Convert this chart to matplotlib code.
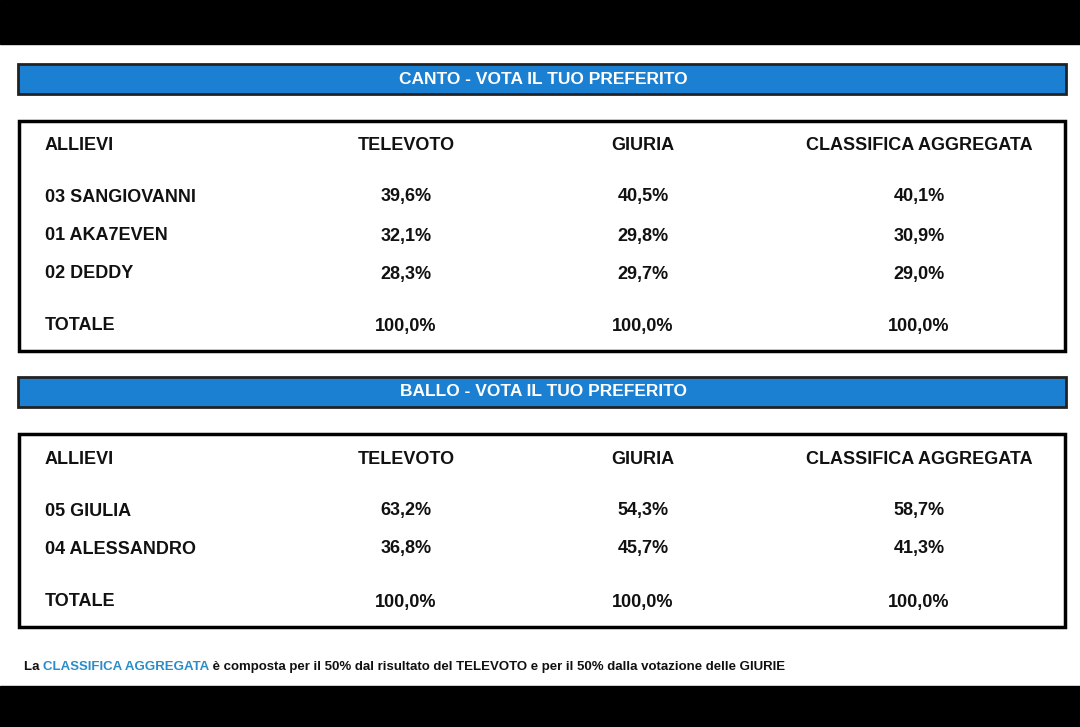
import matplotlib
matplotlib.use("Agg")
import matplotlib.pyplot as plt
from matplotlib.patches import Rectangle

titles = ["CANTO - VOTA IL TUO PREFERITO", "BALLO - VOTA IL TUO PREFERITO"]
columns = ["ALLIEVI", "TELEVOTO", "GIURIA", "CLASSIFICA AGGREGATA"]
canto_names = ["03 SANGIOVANNI", "01 AKA7EVEN", "02 DEDDY"]
canto_tele = ["39,6%", "32,1%", "28,3%"]
canto_giuria = ["40,5%", "29,8%", "29,7%"]
canto_aggr = ["40,1%", "30,9%", "29,0%"]
ballo_names = ["05 GIULIA", "04 ALESSANDRO"]
ballo_tele = ["63,2%", "36,8%"]
ballo_giuria = ["54,3%", "45,7%"]
ballo_aggr = ["58,7%", "41,3%"]
totale = ["TOTALE", "100,0%", "100,0%", "100,0%"]

FONT = "Liberation Sans"
BLUE = "#1b80d2"

fig = plt.figure(figsize=(10.8, 7.27), dpi=100)
ax = fig.add_axes([0, 0, 1, 1])
ax.set_xlim(0, 1080); ax.set_ylim(727, 0); ax.axis("off")
ax.add_patch(Rectangle((0, 0), 1080, 44, color="black"))
ax.add_patch(Rectangle((0, 686), 1080, 41, color="black"))

colx = [45, 406, 643, 919]
def table(title, ybar, ybox0, ybox1, yhead, yrows, ytot, names, tele, giu, agg):
    ax.add_patch(Rectangle((18, ybar), 1048, 30, facecolor=BLUE, edgecolor="#222222", lw=2))
    ax.text(543, ybar + 15, title, color="white", fontsize=12.5, fontweight="bold",
            family=FONT, ha="center", va="center")
    ax.add_patch(Rectangle((19, ybox0), 1046, ybox1 - ybox0, facecolor="white", edgecolor="black", lw=2.5))
    def row(y, vals):
        for i, v in enumerate(vals):
            ax.text(colx[i], y, v, fontsize=13, fontweight="bold", family=FONT,
                    ha="left" if i == 0 else "center", va="center", color="#111111")
    row(yhead, columns)
    for k, y in enumerate(yrows):
        row(y, [names[k], tele[k], giu[k], agg[k]])
    row(ytot, totale)

table(titles[0], 64, 121, 351, 146, [197, 236, 274], 326, canto_names, canto_tele, canto_giuria, canto_aggr)
table(titles[1], 377, 434, 627, 460, [511, 549], 602, ballo_names, ballo_tele, ballo_giuria, ballo_aggr)

parts = [("La ", "#111111"), ("CLASSIFICA AGGREGATA", "#2a8cc8"),
         (" è composta per il 50% dal risultato del TELEVOTO e per il 50% dalla votazione delle GIURIE", "#111111")]
fig.canvas.draw()
r = fig.canvas.get_renderer()
x = 24
for s, c in parts:
    t = ax.text(x, 667, s, fontsize=9.5, fontweight="bold", family=FONT, color=c, ha="left", va="center")
    bb = t.get_window_extent(renderer=r)
    x += bb.width
fig.savefig("out.png", dpi=100, facecolor="white")
